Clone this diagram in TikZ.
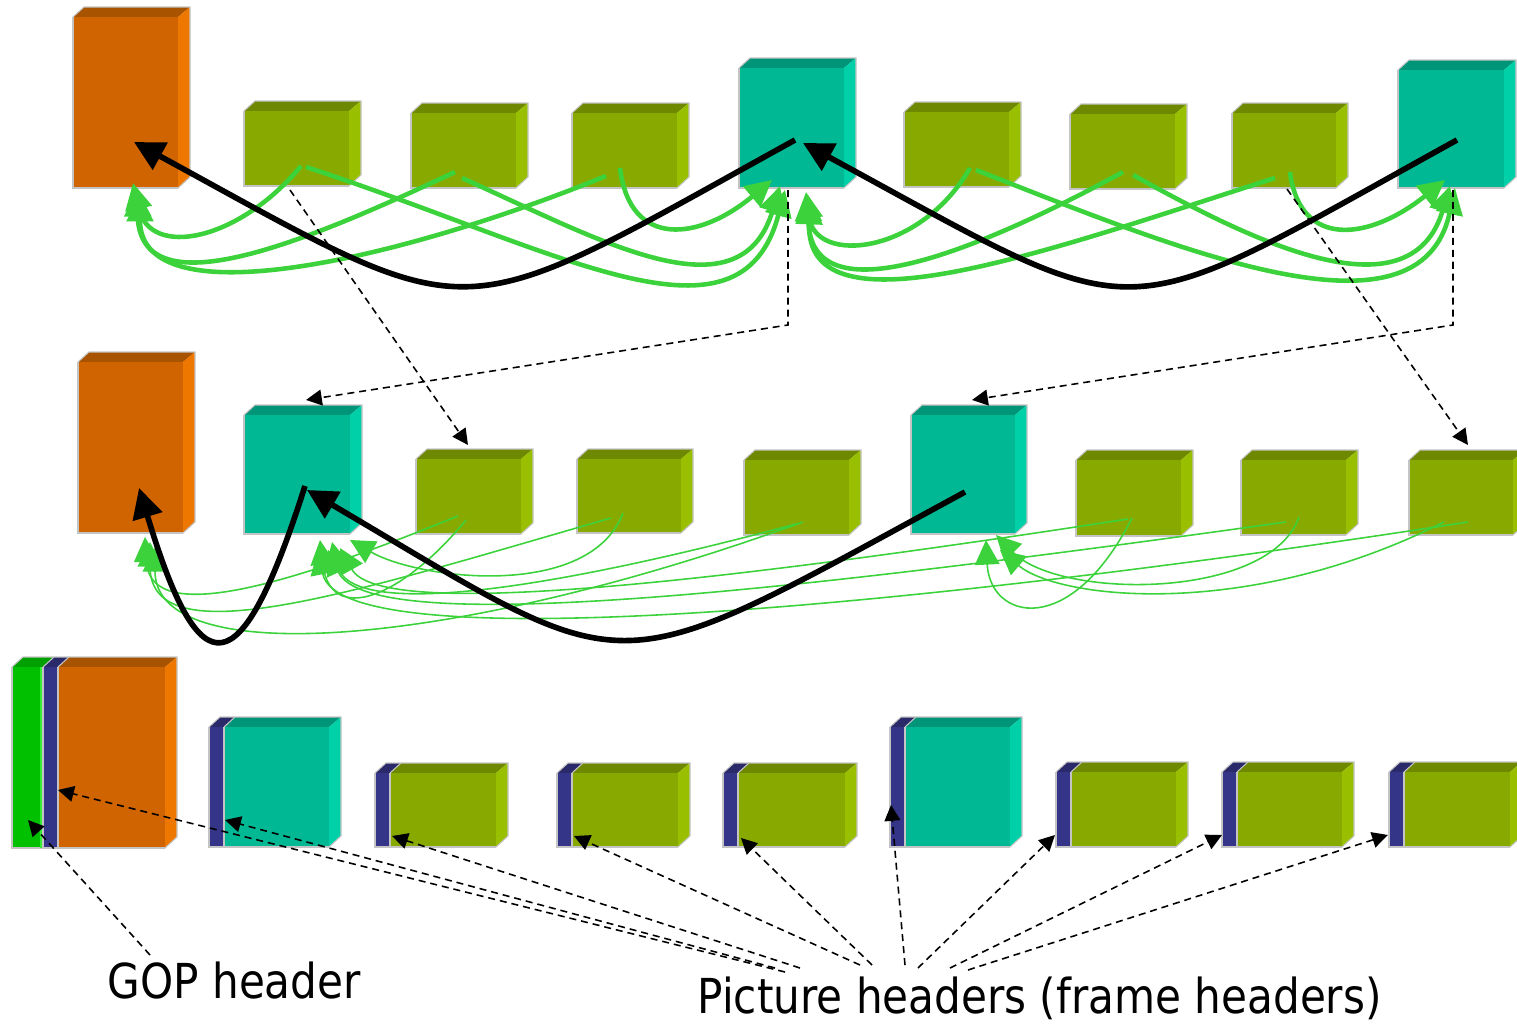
\documentclass[tikz,border=0pt]{standalone}
\usepackage{fontspec}
\newfontfamily\labelfont[FakeStretch=0.875]{DejaVu Sans}
\usetikzlibrary{arrows.meta,fit}
\definecolor{orF}{HTML}{D06400}\definecolor{orT}{HTML}{A85300}\definecolor{orS}{HTML}{EE7700}
\definecolor{olF}{HTML}{88AA00}\definecolor{olT}{HTML}{6E8800}\definecolor{olS}{HTML}{99C000}
\definecolor{teF}{HTML}{00B894}\definecolor{teT}{HTML}{009478}\definecolor{teS}{HTML}{00D0A8}
\definecolor{blF}{HTML}{343488}\definecolor{blT}{HTML}{2A2A6A}
\definecolor{gpF}{HTML}{00C000}\definecolor{gpT}{HTML}{00A000}\definecolor{gpL}{HTML}{33EE33}
\definecolor{agreen}{HTML}{3CD23C}
\definecolor{edgegray}{HTML}{C4C4C4}
\newcommand{\cubebox}[8]{%
  \coordinate (#1-a) at (#2,#3);
  \coordinate (#1-b) at (#4,#5);
  \fill[#7] (#2,#3) -- (#2+11,#3-10) -- (#4+12,#3-10) -- (#4,#3) -- cycle;
  \fill[#8] (#4,#3) -- (#4+12,#3-10) -- (#4+12,#5-11) -- (#4,#5) -- cycle;
  \draw[edgegray,line width=0.3pt] (#2,#3) -- (#2+11,#3-10) -- (#4+12,#3-10) -- (#4+12,#5-11) -- (#4,#5);
  \node[fit=(#1-a)(#1-b),inner sep=0pt,fill=#6] (#1) {};
  \draw[edgegray,line width=0.3pt] (#4,#5) -- (#2,#5) -- (#2,#3);
}
\newcommand{\stripbox}[7]{%
  \coordinate (#1-a) at (#2,#3);
  \coordinate (#1-b) at (#4,#5);
  \fill[#7] (#2,#3) -- (#2+11,#3-10) -- (#4+11,#3-10) -- (#4,#3) -- cycle;
  \draw[edgegray,line width=0.3pt] (#2,#3) -- (#2+11,#3-10) -- (#4+11,#3-10);
  \node[fit=(#1-a)(#1-b),inner sep=0pt,fill=#6] (#1) {};
  \draw[edgegray,line width=0.3pt] (#4,#5) -- (#2,#5) -- (#2,#3);
}
\tikzset{
  blk/.style={line width=1.6pt,draw=black,-{Triangle[length=8.5pt,width=8.5pt]}},
  gthick/.style={draw=agreen,line width=1.3pt,-{Triangle[length=7.5pt,width=7.5pt]}},
  gthin/.style={draw=agreen,line width=0.45pt,-{Triangle[length=7pt,width=7pt]}},
  darr/.style={draw=black,line width=0.45pt,dash pattern=on 2pt off 1.4pt,-{Triangle[length=4.5pt,width=4.5pt]}},
  lbl/.style={font=\labelfont\fontsize{13.7pt}{16pt}\selectfont,inner sep=0pt,anchor=base west}
}
\begin{document}
\begin{tikzpicture}[x=0.01cm,y=-0.01cm]
\useasboundingbox (0,0) rectangle (1517,1024);
% ---------- top row
\cubebox{i1}{73}{17}{178}{188}{orF}{orT}{orS}
\cubebox{b1}{244}{111}{349}{186}{olF}{olT}{olS}
\cubebox{b2}{411}{113}{516}{188}{olF}{olT}{olS}
\cubebox{b3}{572}{113}{677}{188}{olF}{olT}{olS}
\cubebox{p1}{739}{68}{844}{188}{teF}{teT}{teS}
\cubebox{b4}{904}{112}{1009}{187}{olF}{olT}{olS}
\cubebox{b5}{1070}{114}{1175}{189}{olF}{olT}{olS}
\cubebox{b6}{1232}{113}{1336}{188}{olF}{olT}{olS}
\cubebox{p2}{1398}{70}{1504}{188}{teF}{teT}{teS}
% ---------- middle row
\cubebox{mi}{78}{362}{183}{533}{orF}{orT}{orS}
\cubebox{mp1}{244}{415}{350}{534}{teF}{teT}{teS}
\cubebox{mb1}{416}{459}{521}{534}{olF}{olT}{olS}
\cubebox{mb2}{577}{459}{681}{533}{olF}{olT}{olS}
\cubebox{mb3}{744}{460}{849}{535}{olF}{olT}{olS}
\cubebox{mp2}{911}{415}{1015}{534}{teF}{teT}{teS}
\cubebox{mb4}{1076}{460}{1181}{536}{olF}{olT}{olS}
\cubebox{mb5}{1241}{460}{1346}{535}{olF}{olT}{olS}
\cubebox{mb6}{1409}{460}{1513}{535}{olF}{olT}{olS}
% ---------- bottom row
\stripbox{gop}{12}{667}{43}{848}{gpF}{gpT}
\fill[gpL] (40,667) rectangle (43,848);
\stripbox{h0}{43}{667}{58}{848}{blF}{blT}
\cubebox{bi}{58}{667}{165}{848}{orF}{orT}{orS}
\stripbox{h1}{209}{727}{224}{847}{blF}{blT}
\cubebox{bp1}{224}{727}{329}{847}{teF}{teT}{teS}
\stripbox{h2}{375}{773}{390}{847}{blF}{blT}
\cubebox{bb1}{390}{773}{496}{847}{olF}{olT}{olS}
\stripbox{h3}{557}{773}{572}{847}{blF}{blT}
\cubebox{bb2}{572}{773}{678}{847}{olF}{olT}{olS}
\stripbox{h4}{723}{773}{738}{847}{blF}{blT}
\cubebox{bb3}{738}{773}{845}{847}{olF}{olT}{olS}
\stripbox{h5}{890}{727}{905}{847}{blF}{blT}
\cubebox{bp2}{905}{727}{1010}{847}{teF}{teT}{teS}
\stripbox{h6}{1056}{772}{1071}{847}{blF}{blT}
\cubebox{bb4}{1071}{772}{1176}{847}{olF}{olT}{olS}
\stripbox{h7}{1222}{772}{1237}{847}{blF}{blT}
\cubebox{bb5}{1237}{772}{1342}{847}{olF}{olT}{olS}
\stripbox{h8}{1389}{772}{1404}{847}{blF}{blT}
\cubebox{bb6}{1404}{772}{1510}{847}{olF}{olT}{olS}
% ---------- labels
\node[lbl] (goplabel) at (107,998) {GOP header};
\node[lbl] (phlabel) at (697,1013) {Picture headers (frame headers)};
% ---------- top row green arrows
\coordinate (t1s) at (301,166); \coordinate (t1e) at (133,183);
\coordinate (t2s) at (455,172); \coordinate (t2e) at (137,190);
\coordinate (t3s) at (606,176); \coordinate (t3e) at (140,195);
\coordinate (t4s) at (306,167); \coordinate (t4e) at (785,190);
\coordinate (t5s) at (462,178); \coordinate (t5e) at (780,186);
\coordinate (t6s) at (620,168); \coordinate (t6e) at (772,180);
\coordinate (t7s) at (970,168); \coordinate (t7e) at (806,192);
\coordinate (t8s) at (1123,172); \coordinate (t8e) at (808,195);
\coordinate (t9s) at (1275,178); \coordinate (t9e) at (810,198);
\coordinate (t10s) at (976,170); \coordinate (t10e) at (1455,188);
\coordinate (t11s) at (1133,175); \coordinate (t11e) at (1450,186);
\coordinate (t12s) at (1290,172); \coordinate (t12e) at (1445,180);
\draw[gthick] (t1s) .. controls (240,240) and (150,260) .. (t1e);
\draw[gthick] (t2s) .. controls (300,245) and (140,310) .. (t2e);
\draw[gthick] (t3s) .. controls (400,260) and (140,320) .. (t3e);
\draw[gthick] (t4s) .. controls (560,250) and (740,360) .. (t4e);
\draw[gthick] (t5s) .. controls (600,240) and (740,320) .. (t5e);
\draw[gthick] (t6s) .. controls (630,250) and (700,240) .. (t6e);
\draw[gthick] (t7s) .. controls (920,255) and (815,265) .. (t7e);
\draw[gthick] (t8s) .. controls (980,250) and (810,320) .. (t8e);
\draw[gthick] (t9s) .. controls (1050,250) and (805,340) .. (t9e);
\draw[gthick] (t10s) .. controls (1180,250) and (1420,350) .. (t10e);
\draw[gthick] (t11s) .. controls (1250,240) and (1410,320) .. (t11e);
\draw[gthick] (t12s) .. controls (1300,250) and (1370,240) .. (t12e);
% ---------- middle row green arrows
\coordinate (m1s) at (458,516); \coordinate (m1e) at (145,537);
\coordinate (m2s) at (466,520); \coordinate (m2e) at (320,540);
\coordinate (m3s) at (611,518); \coordinate (m3e) at (150,542);
\coordinate (m4s) at (623,513); \coordinate (m4e) at (350,540);
\coordinate (m5s) at (803,522); \coordinate (m5e) at (155,547);
\coordinate (m6s) at (796,524); \coordinate (m6e) at (332,542);
\coordinate (m7s) at (1132,518); \coordinate (m7e) at (986,540);
\coordinate (m8s) at (1128,519); \coordinate (m8e) at (340,548);
\coordinate (m9s) at (1286,522); \coordinate (m9e) at (328,550);
\coordinate (m10s) at (1299,517); \coordinate (m10e) at (996,535);
\coordinate (m11s) at (1468,522); \coordinate (m11e) at (318,550);
\coordinate (m12s) at (1444,522); \coordinate (m12e) at (1000,550);
\draw[gthin] (m1s) .. controls (300,580) and (150,630) .. (m1e);
\draw[gthin] (m2s) .. controls (400,600) and (330,625) .. (m2e);
\draw[gthin] (m3s) .. controls (360,590) and (150,660) .. (m3e);
\draw[gthin] (m4s) .. controls (590,600) and (420,580) .. (m4e);
\draw[gthin] (m5s) .. controls (450,650) and (155,670) .. (m5e);
\draw[gthin] (m6s) .. controls (550,590) and (350,620) .. (m6e);
\draw[gthin] (m7s) .. controls (1070,640) and (990,620) .. (m7e);
\draw[gthin] (m8s) .. controls (700,585) and (380,620) .. (m8e);
\draw[gthin] (m9s) .. controls (800,590) and (370,640) .. (m9e);
\draw[gthin] (m10s) .. controls (1270,600) and (1060,600) .. (m10e);
\draw[gthin] (m11s) .. controls (900,610) and (340,660) .. (m11e);
\draw[gthin] (m12s) .. controls (1250,620) and (1060,600) .. (m12e);
% ---------- black arrows
\coordinate (k1s) at (795,140); \coordinate (k1e) at (134,142);
\coordinate (k2s) at (1457,140); \coordinate (k2e) at (803,143);
\coordinate (k3s) at (305,486); \coordinate (k3e) at (139,488);
\coordinate (k4s) at (965,492); \coordinate (k4e) at (307,490);
\draw[blk] (k1s) .. controls (445,333) and (484,333) .. (k1e);
\draw[blk] (k2s) .. controls (1107,333) and (1153,333) .. (k2e);
\draw[blk] (k3s) .. controls (240,690) and (200,690) .. (k3e);
\draw[blk] (k4s) .. controls (600,690) and (640,686) .. (k4e);
% ---------- dashed reorder arrows
\coordinate (d1s) at (290,190); \coordinate (d1e) at (468,445);
\coordinate (d2s) at (788,190); \coordinate (d2m) at (788,325); \coordinate (d2e) at (306,400);
\coordinate (d3s) at (1453,190); \coordinate (d3m) at (1453,325); \coordinate (d3e) at (972,400);
\coordinate (d4s) at (1287,189); \coordinate (d4e) at (1468,445);
\draw[darr] (d1s) -- (d1e);
\draw[darr] (d2s) -- (d2m) -- (d2e);
\draw[darr] (d3s) -- (d3m) -- (d3e);
\draw[darr] (d4s) -- (d4e);
% ---------- header arrows
\coordinate (g0s) at (150,955); \coordinate (g0e) at (28,820);
\draw[darr] (g0s) -- (g0e);
\coordinate (q1s) at (785,972); \coordinate (q1e) at (58,790);
\coordinate (q2s) at (775,968); \coordinate (q2e) at (225,820);
\coordinate (q3s) at (800,968); \coordinate (q3e) at (392,836);
\coordinate (q4s) at (860,965); \coordinate (q4e) at (574,836);
\coordinate (q5s) at (872,965); \coordinate (q5e) at (741,838);
\coordinate (q6s) at (905,965); \coordinate (q6e) at (891,805);
\coordinate (q7s) at (918,968); \coordinate (q7e) at (1055,835);
\coordinate (q8s) at (950,968); \coordinate (q8e) at (1222,835);
\coordinate (q9s) at (968,970); \coordinate (q9e) at (1388,835);
\foreach \k in {1,...,9} {\draw[darr] (q\k s) -- (q\k e);}
\end{tikzpicture}
\end{document}
